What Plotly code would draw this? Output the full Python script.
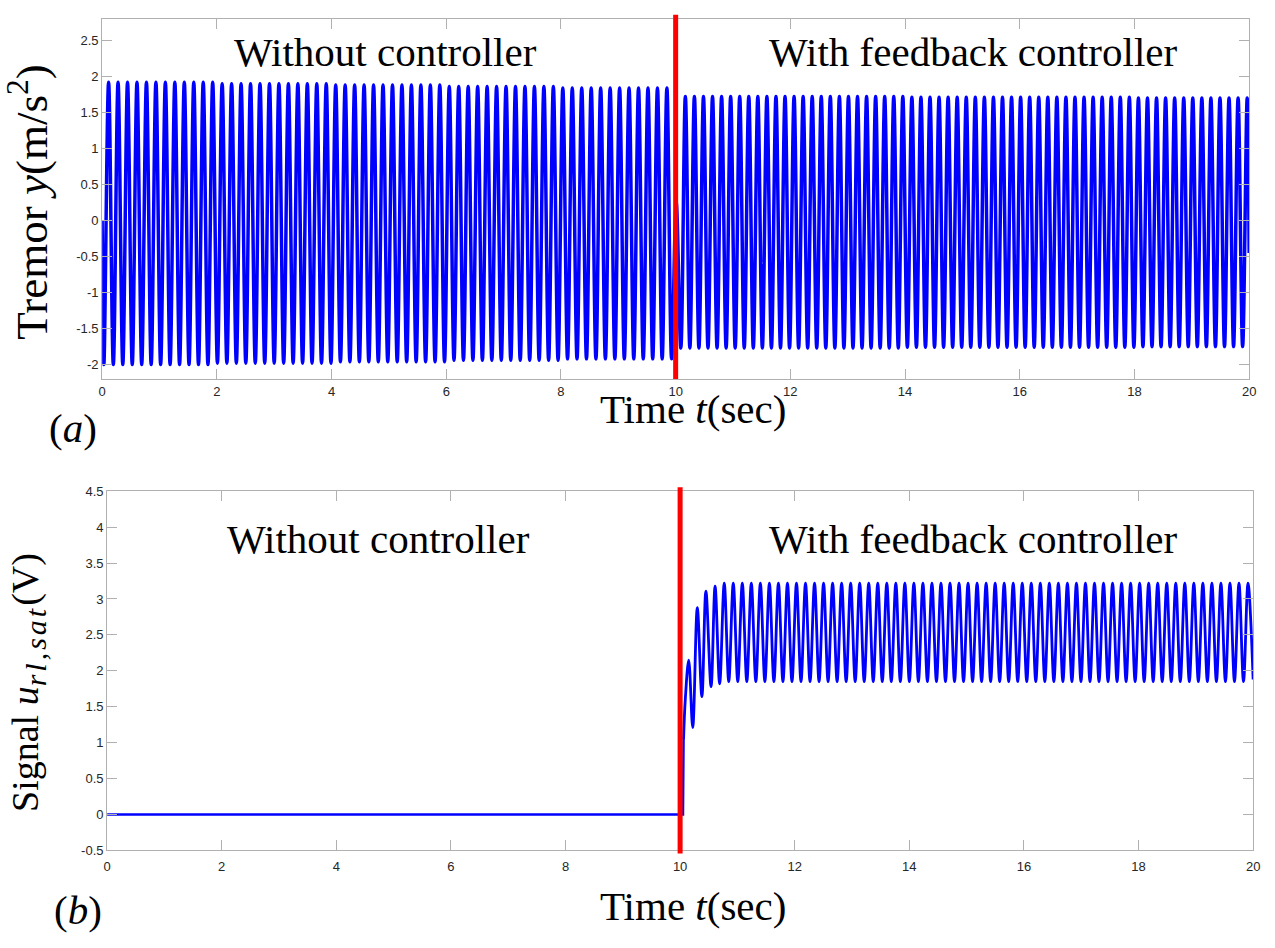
import plotly.graph_objects as go

W, H = 1275, 948

# ---------------- data ----------------
# (a) tremor: extremes of the oscillation
pre_first_trough_t = 0.03          # s, first trough after start
pre_period = 0.165                 # s, oscillation period without controller
pre_env_t = [0, 2, 4, 6, 8]        # envelope read at these times (piecewise)
pre_peak_env = [1.92, 1.90, 1.88, 1.86, 1.84]
pre_trough_env = [-2.00, -1.98, -1.96, -1.94, -1.92]
pre_last_trough_t = 9.93

switch_t = [10.01]                 # short bump at the switch instant
switch_v = [0.25]

post_first_trough_t = 10.09
post_period = 0.158                # s, oscillation period with controller
post_env_t = [10, 12, 14, 16, 18]
post_peak_env = [1.72, 1.72, 1.71, 1.71, 1.70]
post_trough_env = [-1.77, -1.77, -1.76, -1.76, -1.75]
post_last_peak_t = 19.97
end_t, end_v = 20.0, -0.45

# (b) control signal
u_zero_t = [0, 10.05, 10.06]
u_zero_v = [0, 0, 1.05]
u_trans_t = [10.06, 10.09, 10.15, 10.22, 10.30, 10.38, 10.45, 10.54, 10.61, 10.69]
u_trans_v = [1.05, 1.60, 2.15, 1.21, 2.88, 1.64, 3.11, 1.78, 3.18, 1.82]
u_first_peak_t = 10.77
u_period = 0.1576
u_peak = 3.22
u_trough = 1.85
u_end_t, u_end_v = 20.0, 1.88

x_ticks = [0, 2, 4, 6, 8, 10, 12, 14, 16, 18, 20]
ya_ticks = [-2, -1.5, -1, -0.5, 0, 0.5, 1, 1.5, 2, 2.5]
ya_labels = ["-2", "-1.5", "-1", "-0.5", "0", "0.5", "1", "1.5", "2", "2.5"]
yb_ticks = [-0.5, 0, 0.5, 1, 1.5, 2, 2.5, 3, 3.5, 4, 4.5]
yb_labels = ["-0.5", "0", "0.5", "1", "1.5", "2", "2.5", "3", "3.5", "4", "4.5"]


def env_value(t, env_t, env_v):
    idx = 0
    for i, et in enumerate(env_t):
        if t >= et:
            idx = i
    return env_v[idx]


# build tremor extremes sequence
ya_t, ya_v = [0.0], [0.0]
t = pre_first_trough_t
k = 0
while t <= pre_last_trough_t + 1e-9:
    if k % 2 == 0:
        ya_v.append(env_value(t, pre_env_t, pre_trough_env))
    else:
        ya_v.append(env_value(t, pre_env_t, pre_peak_env))
    ya_t.append(t)
    k += 1
    t = pre_first_trough_t + k * pre_period / 2
ya_t += switch_t
ya_v += switch_v
t = post_first_trough_t
k = 0
while t <= post_last_peak_t + 1e-9:
    if k % 2 == 0:
        ya_v.append(env_value(t, post_env_t, post_trough_env))
    else:
        ya_v.append(env_value(t, post_env_t, post_peak_env))
    ya_t.append(t)
    k += 1
    t = post_first_trough_t + k * post_period / 2
ya_t.append(end_t)
ya_v.append(end_v)

# build control signal sequence
ub_t = list(u_trans_t)
ub_v = list(u_trans_v)
t = u_first_peak_t
k = 0
while t < u_end_t - 0.02:
    ub_t.append(t)
    ub_v.append(u_peak if k % 2 == 0 else u_trough)
    k += 1
    t = u_first_peak_t + k * u_period / 2
ub_t.append(u_end_t)
ub_v.append(u_end_v)


def px(x):
    return x / W


def py(y):
    return 1 - y / H


BLUE = "#0000FF"
fig = go.Figure()
fig.add_trace(go.Scatter(x=ya_t, y=ya_v, mode="lines", xaxis="x", yaxis="y",
                         line=dict(color=BLUE, width=3.5, shape="spline"), showlegend=False))
fig.add_trace(go.Scatter(x=u_zero_t, y=u_zero_v, mode="lines", xaxis="x2", yaxis="y2",
                         line=dict(color=BLUE, width=2.5), showlegend=False))
fig.add_trace(go.Scatter(x=ub_t, y=ub_v, mode="lines", xaxis="x2", yaxis="y2",
                         line=dict(color=BLUE, width=2.8, shape="spline"), showlegend=False))

axis_common = dict(showline=True, mirror="ticks", linecolor="#b0b0b0", linewidth=1,
                   ticks="inside", ticklen=10, tickcolor="#b0b0b0", tickwidth=1,
                   showgrid=False, zeroline=False,
                   tickfont=dict(family="Liberation Sans, Arial", size=13, color="#262626"))

fig.update_layout(
    width=W, height=H, margin=dict(l=0, r=0, t=0, b=0),
    paper_bgcolor="white", plot_bgcolor="white",
    xaxis=dict(domain=[px(99), px(1256)], range=[0, 20], anchor="y",
               tickvals=x_ticks, ticktext=[str(v) for v in x_ticks], **axis_common),
    yaxis=dict(domain=[py(378), py(12)], range=[-2.2, 2.8], anchor="x",
               tickvals=ya_ticks, ticktext=ya_labels, **axis_common),
    xaxis2=dict(domain=[px(104), px(1260)], range=[0, 20], anchor="y2", ticklabelstandoff=4,
                tickvals=x_ticks, ticktext=[str(v) for v in x_ticks], **axis_common),
    yaxis2=dict(domain=[py(857), py(492)], range=[-0.5, 4.5], anchor="x2",
                tickvals=yb_ticks, ticktext=yb_labels, **axis_common),
)

RED = "#FF0000"
fig.add_shape(type="line", xref="x", yref="paper", x0=10, x1=10, y0=py(378), y1=py(8),
              line=dict(color=RED, width=5))
fig.add_shape(type="line", xref="x2", yref="paper", x0=10, x1=10, y0=py(860), y1=py(488),
              line=dict(color=RED, width=5))

SERIF = "Liberation Serif, Times New Roman, serif"


def ann(text, x, y, size=41, angle=0):
    fig.add_annotation(text=text, x=px(x), y=py(y), xref="paper", yref="paper",
                       showarrow=False, textangle=angle, xanchor="center", yanchor="middle",
                       font=dict(family=SERIF, size=size, color="black"))


ann("Without controller", 385, 46)
ann("With feedback controller", 978, 46)
ann("Without controller", 378, 541)
ann("With feedback controller", 978, 541)
ann("Tremor <i>y</i>(m/s<sup>2</sup>)", 25, 198, size=45, angle=-90)
ann("Time <i>t</i>(sec)", 695, 408)
ann("(<i>a</i>)", 70, 428)
ann("Signal <i>u</i><sub><span style=\"font-size:30px;letter-spacing:3px\"><i>rl,sat</i></span></sub>(V)",
    24, 686, size=38, angle=-90)
ann("Time <i>t</i>(sec)", 695, 913)
ann("(<i>b</i>)", 75, 918)

fig.write_html("out.html")
